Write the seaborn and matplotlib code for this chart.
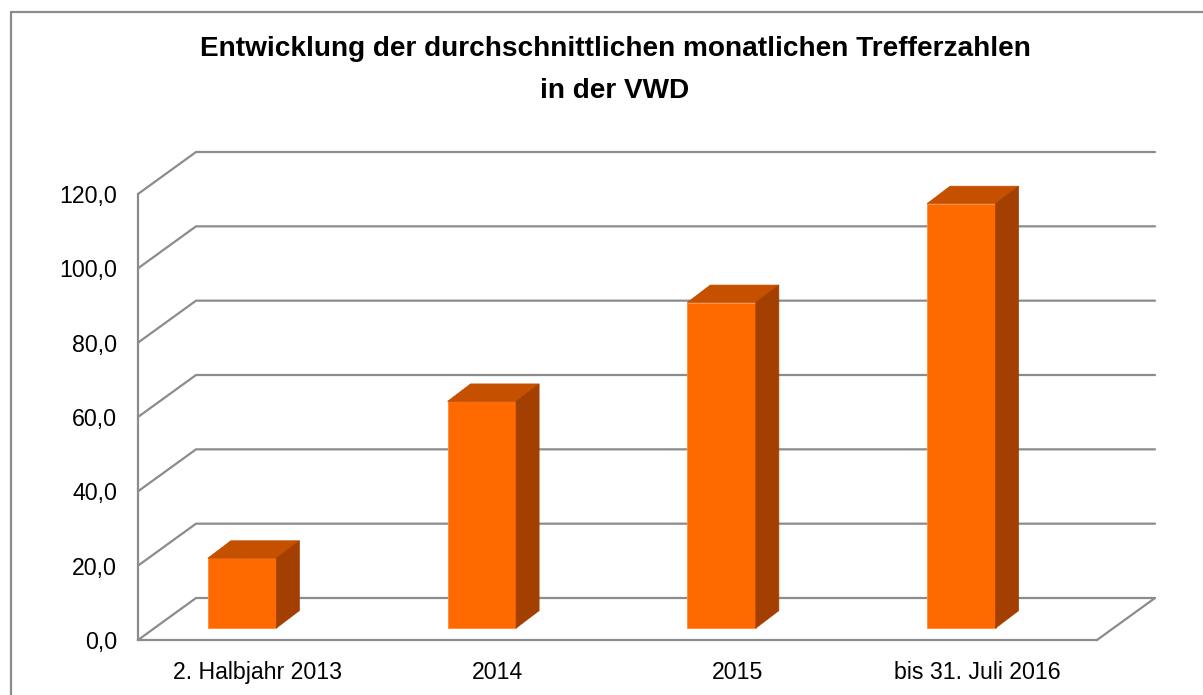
import matplotlib
matplotlib.use("Agg")
import matplotlib.pyplot as plt
import seaborn as sns
from matplotlib.patches import Polygon
from matplotlib.lines import Line2D

# Werte aus dem Diagramm
kategorien = ["2. Halbjahr 2013", "2014", "2015", "bis 31. Juli 2016"]
werte = [18.8, 61.0, 87.6, 114.2]
y_ticks = [0, 20, 40, 60, 80, 100, 120]
y_labels = ["0,0", "20,0", "40,0", "60,0", "80,0", "100,0", "120,0"]
titel = "Entwicklung der durchschnittlichen monatlichen Trefferzahlen\nin der VWD"

sns.set_style("white")
plt.rcParams['font.family'] = ['Liberation Sans', 'DejaVu Sans']

grau = "#8c8c8c"
front = "#ff6a00"
oben = "#c45000"
seite = "#a33f00"

W, H = 1203, 695
fig = plt.figure(figsize=(W / 100, H / 100), dpi=100)
ax = fig.add_axes([138 / W, (H - 640) / H, 959 / W, 446 / H])

# Tiefe der 3D-Ansicht (in Daten-Einheiten)
DX, DY = 0.242, 11.3      # Rückwand
BDX, BDY = 0.096, 4.7     # Balkentiefe
BODEN = 3.2               # Unterkante der Balkenfront

sns.barplot(x=kategorien, y=werte, width=0.286, color=front, saturation=1,
            edgecolor="#ff8a3d", linewidth=0.6, ax=ax, zorder=3)

ax.set_xlim(-0.5, 3.5)
ax.set_ylim(0, 120)

# Rückwand und Boden
n = len(kategorien)
for v in y_ticks:
    ax.add_line(Line2D([-0.5, -0.5 + DX, n - 0.5 + DX], [v, v + DY, v + DY],
                       color=grau, lw=1.6, clip_on=False, zorder=1))
ax.add_line(Line2D([n - 0.5, n - 0.5 + DX], [0, DY], color=grau, lw=1.6,
                   clip_on=False, zorder=1))

# 3D-Flächen der Balken
for p in ax.patches[:n]:
    p.set_x(p.get_x() - 0.066)
    p.set_y(BODEN)
    x0 = p.get_x()
    x1 = x0 + p.get_width()
    y0 = BODEN
    y1 = BODEN + p.get_height()
    ax.add_patch(Polygon([(x0, y1), (x1, y1), (x1 + BDX, y1 + BDY), (x0 + BDX, y1 + BDY)],
                         closed=True, facecolor=oben, edgecolor=oben, lw=0.5,
                         clip_on=False, zorder=3))
    ax.add_patch(Polygon([(x1, y0), (x1, y1), (x1 + BDX, y1 + BDY), (x1 + BDX, y0 + BDY)],
                         closed=True, facecolor=seite, edgecolor=seite, lw=0.5,
                         clip_on=False, zorder=3))

# Achsen
for s in ["top", "right"]:
    ax.spines[s].set_visible(False)
for s in ["left", "bottom"]:
    ax.spines[s].set_color(grau)
    ax.spines[s].set_linewidth(1.6)

ax.set_yticks(y_ticks)
ax.set_yticklabels(y_labels, fontsize=16.7)
ax.tick_params(axis="y", length=4, width=1.6, color=grau, pad=11, labelcolor="black")

ax.set_xticks([i - 0.5 for i in range(n + 1)])
ax.set_xticklabels([])
ax.set_xticks(range(n), minor=True)
ax.set_xticklabels(kategorien, minor=True, fontsize=16.7)
ax.tick_params(axis="x", which="major", length=7, width=1.6, color=grau)
ax.tick_params(axis="x", which="minor", length=0, pad=15, labelcolor="black")
ax.set_xlabel("")
ax.grid(False)

fig.text(615 / W, 1 - 70 / H, titel, ha="center", va="center", fontsize=20.2,
         fontweight="bold", linespacing=1.85, color="black")

# Rahmen
fig.add_artist(Line2D([11 / W, 11 / W], [0, 1 - 12 / H], color=grau, lw=1.6))
fig.add_artist(Line2D([11 / W, 1], [1 - 12 / H, 1 - 12 / H], color=grau, lw=1.6))

fig.savefig("out.png", dpi=100)
